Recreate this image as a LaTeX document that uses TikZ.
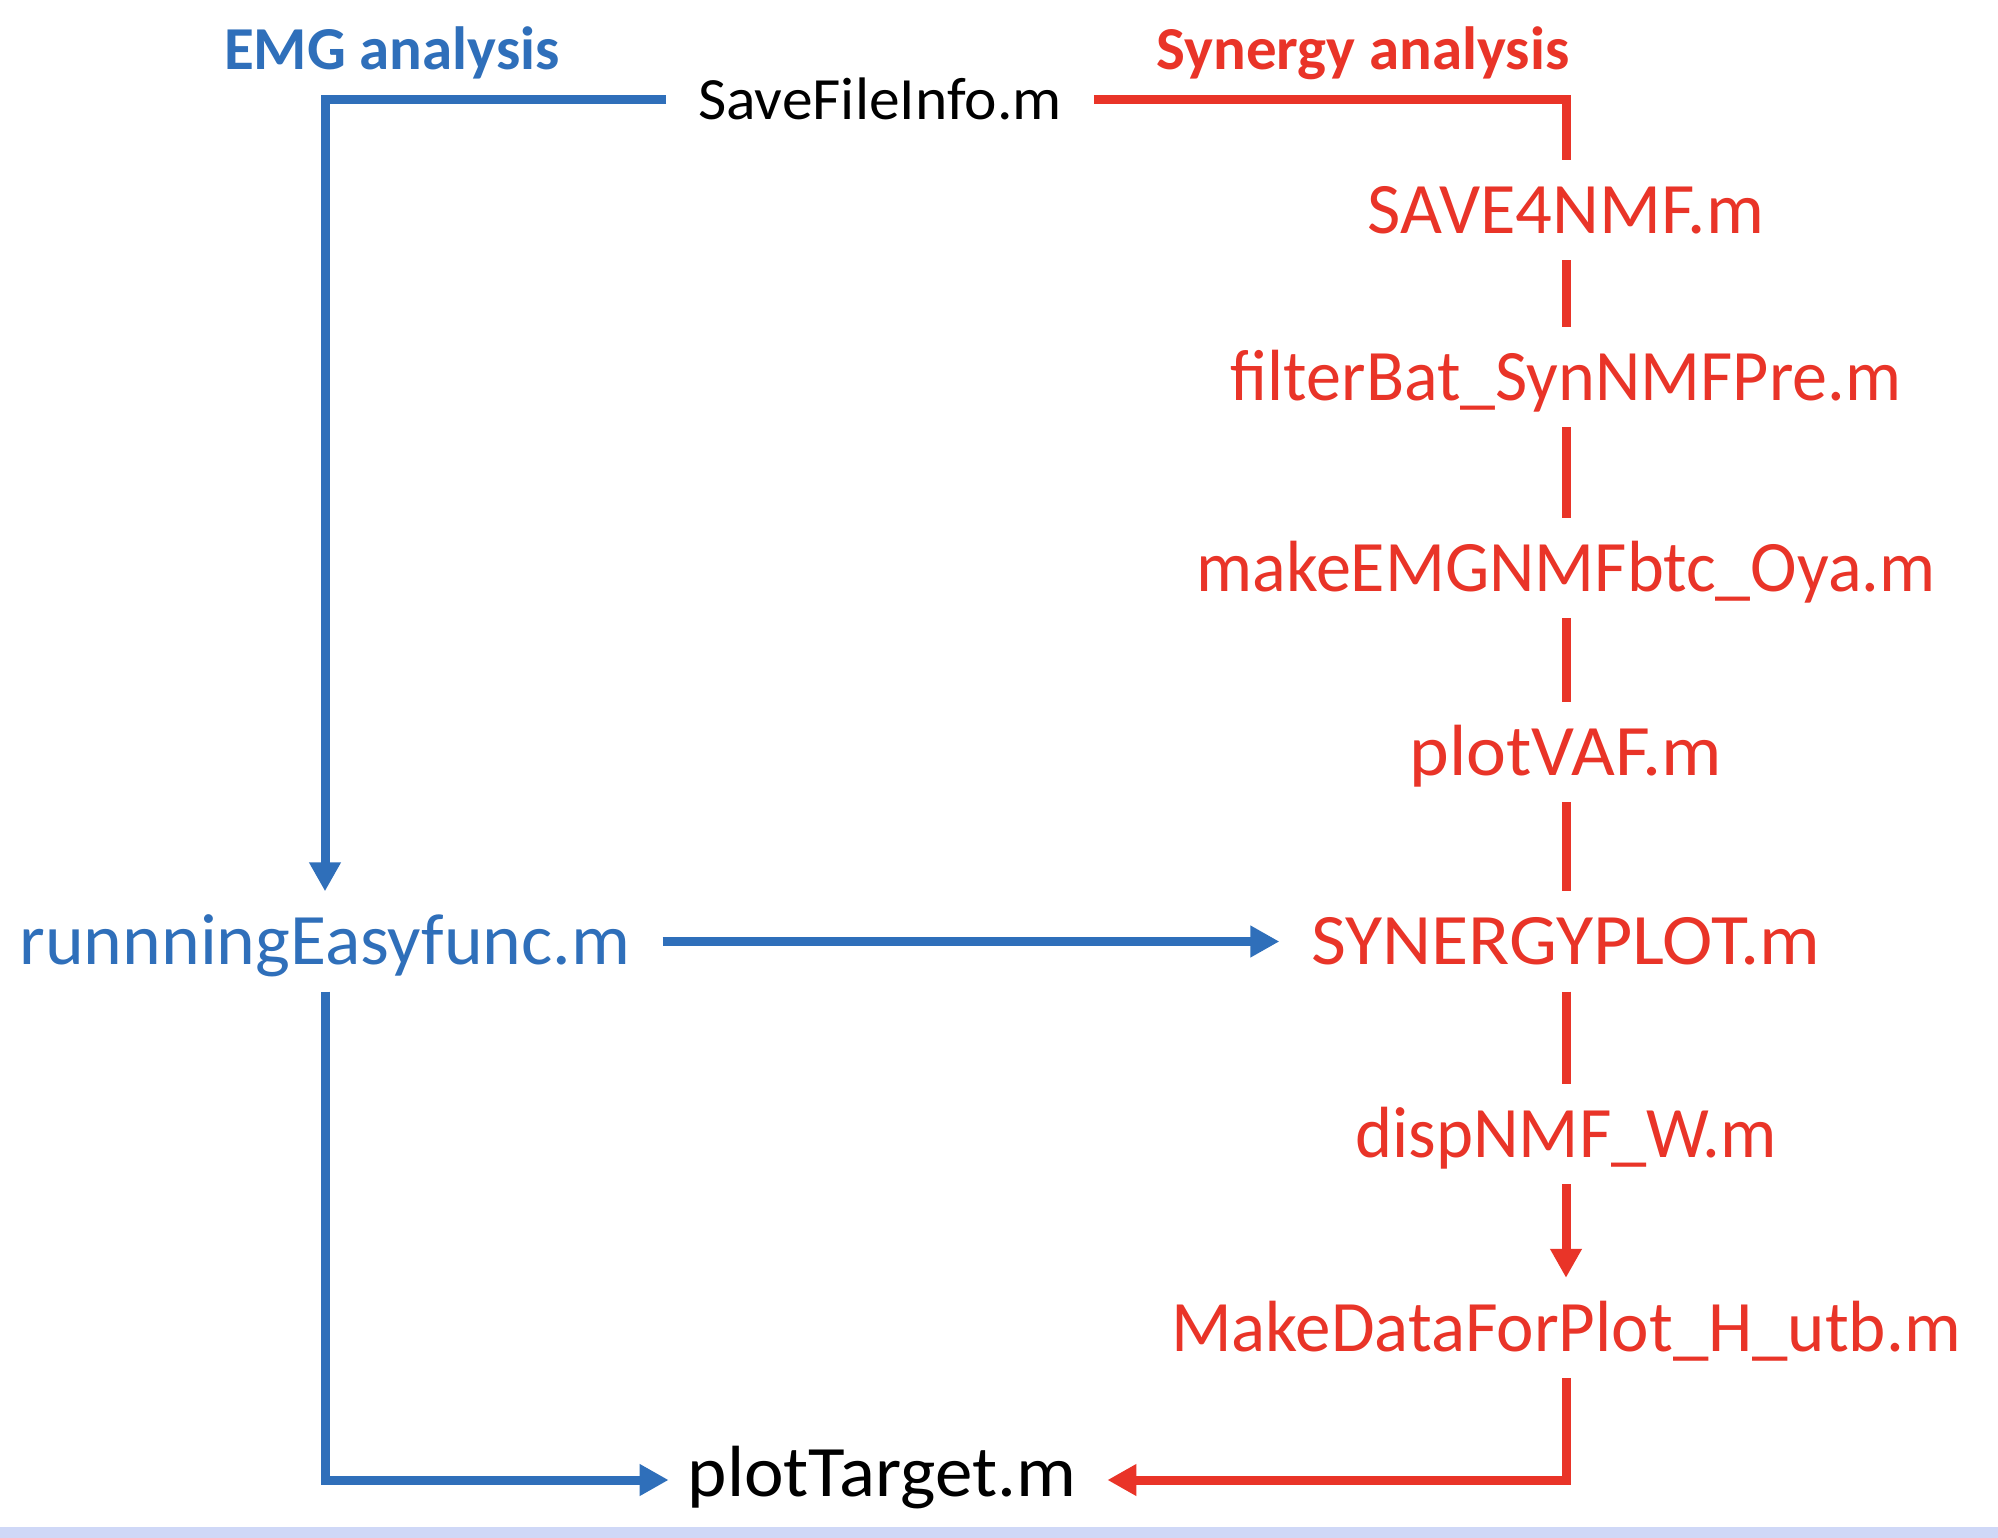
\documentclass[tikz,border=0pt]{standalone}
\usepackage{graphicx}
\usepackage{fontspec}
\setmainfont{Carlito}
\usetikzlibrary{arrows.meta}
\definecolor{emgblue}{RGB}{47,111,186}
\definecolor{synred}{RGB}{233,52,40}
\definecolor{stripcol}{RGB}{207,216,247}
\newcommand{\hsq}[2]{\scalebox{#1}[1]{#2}}
\begin{document}
\begin{tikzpicture}[x=1pt,y=-1pt,
  plainline/.style={line width=9pt},
  arrowline/.style={line width=9pt,-{Triangle[length=29pt,width=30pt]}},
  colnode/.style={inner xsep=32pt,inner ysep=0pt,text height=73.4pt,text depth=26.6pt,
    font=\fontsize{72.5}{87}\selectfont},
  rednode/.style={colnode,text=synred},
  headnode/.style={anchor=base,inner sep=0pt,font=\fontsize{61}{73}\selectfont\bfseries}
]
\fill[white] (0,0) rectangle (1998,1538);
\useasboundingbox (0,0) rectangle (1998,1538);
\fill[stripcol] (0,1527) rectangle (1998,1538);

% headings
\node[headnode,text=emgblue] (emg) at (392,70) {EMG analysis};
\node[headnode,text=synred] (synh) at (1363,70) {Synergy analysis};

% nodes
\node[inner xsep=32pt,inner ysep=0pt,text height=50pt,text depth=10pt,
  font=\fontsize{60}{72}\selectfont] (sfi) at (880,100) {\hsq{1.025}{SaveFileInfo.m}};
\node[colnode,text=emgblue] (ref) at (325,941.5) {\hsq{1.017}{runnningEasyfunc.m}};
\node[rednode] (s4) at (1566,210) {SAVE4NMF.m};
\node[rednode] (fb) at (1566,377) {\hsq{0.967}{filterBat\_SynNMFPre.m}};
\node[rednode] (mk) at (1566,568) {\hsq{0.968}{makeEMGNMFbtc\_Oya.m}};
\node[rednode] (vaf) at (1566,752) {\hsq{1.043}{plotVAF.m}};
\node[rednode] (sp) at (1566,941.5) {\hsq{1.048}{SYNERGYPLOT.m}};
\node[rednode] (dw) at (1566,1134) {\hsq{0.973}{dispNMF\_W.m}};
\node[rednode] (md) at (1566,1328) {\hsq{0.979}{MakeDataForPlot\_H\_utb.m}};
\node[inner xsep=31pt,inner ysep=0pt,text height=50pt,text depth=18pt,
  font=\fontsize{72.5}{87}\selectfont] (pt) at (882,1480) {\hsq{1.034}{plotTarget.m}};

% synergy chain
\draw[plainline,synred] (sfi.east) -| (s4.north);
\draw[plainline,synred] (s4.south) -- (fb.north);
\draw[plainline,synred] (fb.south) -- (mk.north);
\draw[plainline,synred] (mk.south) -- (vaf.north);
\draw[plainline,synred] (vaf.south) -- (sp.north);
\draw[plainline,synred] (sp.south) -- (dw.north);
\draw[arrowline,synred] (dw.south) -- (md.north);
\draw[arrowline,synred] (md.south) |- (pt.east);

% EMG chain
\draw[arrowline,emgblue] (sfi.west) -| (ref.north);
\draw[arrowline,emgblue] (ref.east) -- (sp.west);
\draw[arrowline,emgblue,shorten >=-12pt] (ref.south) |- (pt.west);
\end{tikzpicture}
\end{document}
